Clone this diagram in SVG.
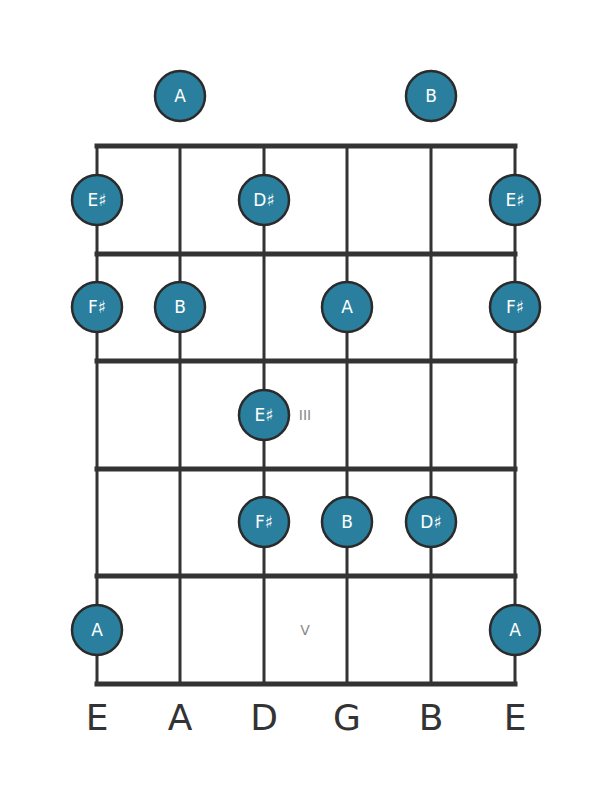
<svg xmlns="http://www.w3.org/2000/svg" width="611" height="801" viewBox="0 0 611 801">
<style>
.fret{stroke:#333;stroke-width:5;stroke-linecap:square}
.str{stroke:#333;stroke-width:3}
.note circle{fill:#2a7f9e;stroke:#2b2b2b;stroke-width:2.5}
.note text{fill:#fff;font-family:"DejaVu Sans",sans-serif;font-size:17px;text-anchor:middle;dominant-baseline:central}
.mark{fill:#888;font-family:"DejaVu Sans",sans-serif;font-size:14px;text-anchor:middle;dominant-baseline:central}
.lbl{fill:#333;font-family:"DejaVu Sans",sans-serif;font-size:36px;text-anchor:middle}
</style>
<rect width="611" height="801" fill="#fff"/>
<g id="board">
<line class="str" x1="97" y1="146" x2="97" y2="684"/>
<line class="str" x1="180" y1="146" x2="180" y2="684"/>
<line class="str" x1="264" y1="146" x2="264" y2="684"/>
<line class="str" x1="347" y1="146" x2="347" y2="684"/>
<line class="str" x1="431" y1="146" x2="431" y2="684"/>
<line class="str" x1="515" y1="146" x2="515" y2="684"/>
<line class="fret" x1="97" y1="146" x2="515" y2="146"/>
<line class="fret" x1="97" y1="254" x2="515" y2="254"/>
<line class="fret" x1="97" y1="361" x2="515" y2="361"/>
<line class="fret" x1="97" y1="469" x2="515" y2="469"/>
<line class="fret" x1="97" y1="576" x2="515" y2="576"/>
<line class="fret" x1="97" y1="684" x2="515" y2="684"/>
<text class="mark" x="305" y="415">III</text>
<text class="mark" x="305" y="630">V</text>
</g>
<g id="n1" class="note"><circle cx="180" cy="96" r="25"/><text x="180" y="96">A</text></g>
<g id="n2" class="note"><circle cx="431" cy="96" r="25"/><text x="431" y="96">B</text></g>
<g id="n3" class="note"><circle cx="97" cy="200" r="25"/><text x="97" y="200">E♯</text></g>
<g id="n4" class="note"><circle cx="264" cy="200" r="25"/><text x="264" y="200">D♯</text></g>
<g id="n5" class="note"><circle cx="515" cy="200" r="25"/><text x="515" y="200">E♯</text></g>
<g id="n6" class="note"><circle cx="97" cy="307" r="25"/><text x="97" y="307">F♯</text></g>
<g id="n7" class="note"><circle cx="180" cy="307" r="25"/><text x="180" y="307">B</text></g>
<g id="n8" class="note"><circle cx="347" cy="307" r="25"/><text x="347" y="307">A</text></g>
<g id="n9" class="note"><circle cx="515" cy="307" r="25"/><text x="515" y="307">F♯</text></g>
<g id="n10" class="note"><circle cx="264" cy="415" r="25"/><text x="264" y="415">E♯</text></g>
<g id="n11" class="note"><circle cx="264" cy="522" r="25"/><text x="264" y="522">F♯</text></g>
<g id="n12" class="note"><circle cx="347" cy="522" r="25"/><text x="347" y="522">B</text></g>
<g id="n13" class="note"><circle cx="431" cy="522" r="25"/><text x="431" y="522">D♯</text></g>
<g id="n14" class="note"><circle cx="97" cy="630" r="25"/><text x="97" y="630">A</text></g>
<g id="n15" class="note"><circle cx="515" cy="630" r="25"/><text x="515" y="630">A</text></g>
<g id="labels">
<text class="lbl" x="97" y="730">E</text>
<text class="lbl" x="180" y="730">A</text>
<text class="lbl" x="264" y="730">D</text>
<text class="lbl" x="347" y="730">G</text>
<text class="lbl" x="431" y="730">B</text>
<text class="lbl" x="515" y="730">E</text>
</g>
</svg>
